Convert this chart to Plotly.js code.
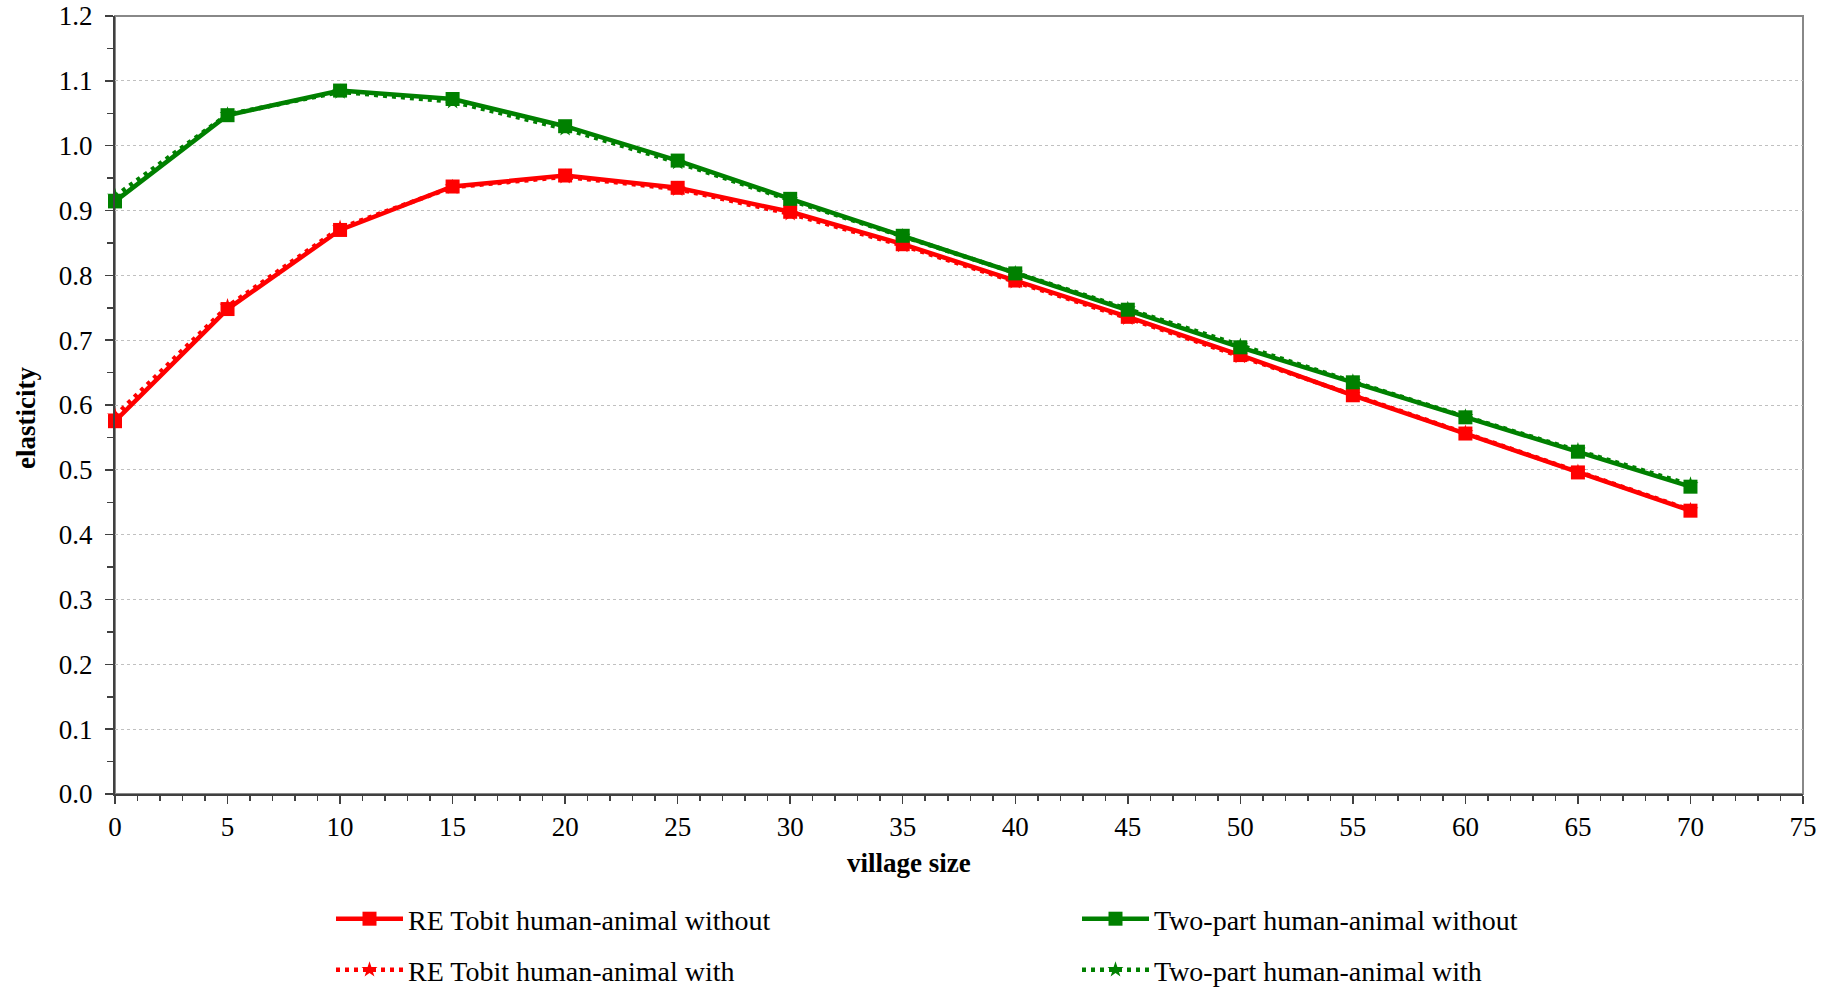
<!DOCTYPE html>
<html>
<head>
<meta charset="utf-8">
<script src="https://cdn.plot.ly/plotly-3.0.1.min.js"></script>
<style>html,body{margin:0;padding:0;background:#fff;}#chart{width:1834px;height:987px;}</style>
</head>
<body>
<div id="chart"></div>
<script>
const villageSize = [0, 5, 10, 15, 20, 25, 30, 35, 40, 45, 50, 55, 60, 65, 70];
const reTobitWithout = [0.575, 0.748, 0.870, 0.937, 0.954, 0.935, 0.898, 0.848, 0.792, 0.736, 0.677, 0.615, 0.556, 0.496, 0.437];
const reTobitWith    = [0.583, 0.752, 0.873, 0.936, 0.952, 0.933, 0.895, 0.846, 0.790, 0.734, 0.675, 0.616, 0.557, 0.497, 0.438];
const twoPartWithout = [0.914, 1.047, 1.085, 1.072, 1.030, 0.977, 0.918, 0.861, 0.803, 0.747, 0.689, 0.635, 0.581, 0.528, 0.474];
const twoPartWith    = [0.922, 1.048, 1.083, 1.068, 1.026, 0.974, 0.916, 0.860, 0.803, 0.748, 0.691, 0.636, 0.582, 0.530, 0.477];
const seriesNames = ["RE Tobit human-animal without", "Two-part human-animal without", "RE Tobit human-animal with", "Two-part human-animal with"];
const xTitle = "village size";
const yTitle = "elasticity";

const RED = "#ff0000", GREEN = "#008000";
const FONT = "Liberation Serif, Times New Roman, serif";

const traces = [
  {x: villageSize, y: reTobitWith, name: seriesNames[2], mode: "lines+markers", legend: "legend2",
   line: {color: RED, width: 4.5, dash: "4px,5px"}, marker: {symbol: "star", size: 12, color: RED}, cliponaxis: false},
  {x: villageSize, y: twoPartWith, name: seriesNames[3], mode: "lines+markers", legend: "legend2",
   line: {color: GREEN, width: 4.5, dash: "4px,5px"}, marker: {symbol: "star", size: 12, color: GREEN}, cliponaxis: false},
  {x: villageSize, y: reTobitWithout, name: seriesNames[0], mode: "lines+markers", legend: "legend",
   line: {color: RED, width: 4.5}, marker: {symbol: "square", size: 14, color: RED}, cliponaxis: false},
  {x: villageSize, y: twoPartWithout, name: seriesNames[1], mode: "lines+markers", legend: "legend",
   line: {color: GREEN, width: 4.5}, marker: {symbol: "square", size: 14, color: GREEN}, cliponaxis: false}
];

const legendCommon = {
  orientation: "h", xanchor: "left", yanchor: "middle", xref: "container", yref: "container",
  font: {family: FONT, size: 28, color: "#000"},
  itemwidth: 67, entrywidth: 664, entrywidthmode: "pixels",
  bgcolor: "rgba(0,0,0,0)", traceorder: "normal"
};

const layout = {
  width: 1834, height: 987,
  margin: {l: 115, r: 31, t: 16, b: 193, autoexpand: false},
  paper_bgcolor: "#fff", plot_bgcolor: "#fff",
  font: {family: FONT, size: 27, color: "#000"},
  showlegend: true,
  legend: Object.assign({x: 331 / 1834, y: 1 - 919 / 987}, legendCommon),
  legend2: Object.assign({x: 331 / 1834, y: 1 - 970 / 987}, legendCommon),
  xaxis: {
    range: [0, 75], dtick: 5, tick0: 0, showgrid: false, zeroline: false,
    showline: true, linecolor: "#404040", linewidth: 2,
    ticks: "outside", ticklen: 8, tickcolor: "#404040", tickwidth: 1.5,
    tickfont: {family: FONT, size: 27, color: "#000"},
    minor: {dtick: 1, ticks: "outside", ticklen: 5, tickcolor: "#404040", tickwidth: 1.5, showgrid: false},
    fixedrange: true
  },
  yaxis: {
    range: [0, 1.2], dtick: 0.1, tick0: 0, tickformat: ".1f",
    showgrid: true, gridcolor: "#c0c0c0", gridwidth: 1, griddash: "dot",
    zeroline: false, showline: true, linecolor: "#404040", linewidth: 2,
    ticks: "outside", ticklen: 8, tickcolor: "#404040", tickwidth: 1.5, ticklabelstandoff: 7,
    tickfont: {family: FONT, size: 27, color: "#000"},
    minor: {dtick: 0.05, ticks: "outside", ticklen: 6, tickcolor: "#404040", tickwidth: 1.5, showgrid: false},
    fixedrange: true
  },
  shapes: [
    {type: "rect", xref: "paper", yref: "paper", x0: 0, x1: 1, y0: 0, y1: 1,
     line: {color: "#888888", width: 2}, layer: "below"}
  ],
  annotations: [
    {text: "<b>" + xTitle + "</b>", xref: "paper", yref: "paper", x: (909 - 115) / 1688, y: (794 - 863) / 778,
     xanchor: "center", yanchor: "middle", showarrow: false, font: {family: FONT, size: 27, color: "#000"}},
    {text: "<b>" + yTitle + "</b>", xref: "paper", yref: "paper", x: (26 - 115) / 1688, y: (794 - 418) / 778,
     xanchor: "center", yanchor: "middle", textangle: -90, showarrow: false, font: {family: FONT, size: 27, color: "#000"}}
  ]
};

Plotly.newPlot("chart", traces, layout, {displayModeBar: false, staticPlot: true});
</script>
</body>
</html>
